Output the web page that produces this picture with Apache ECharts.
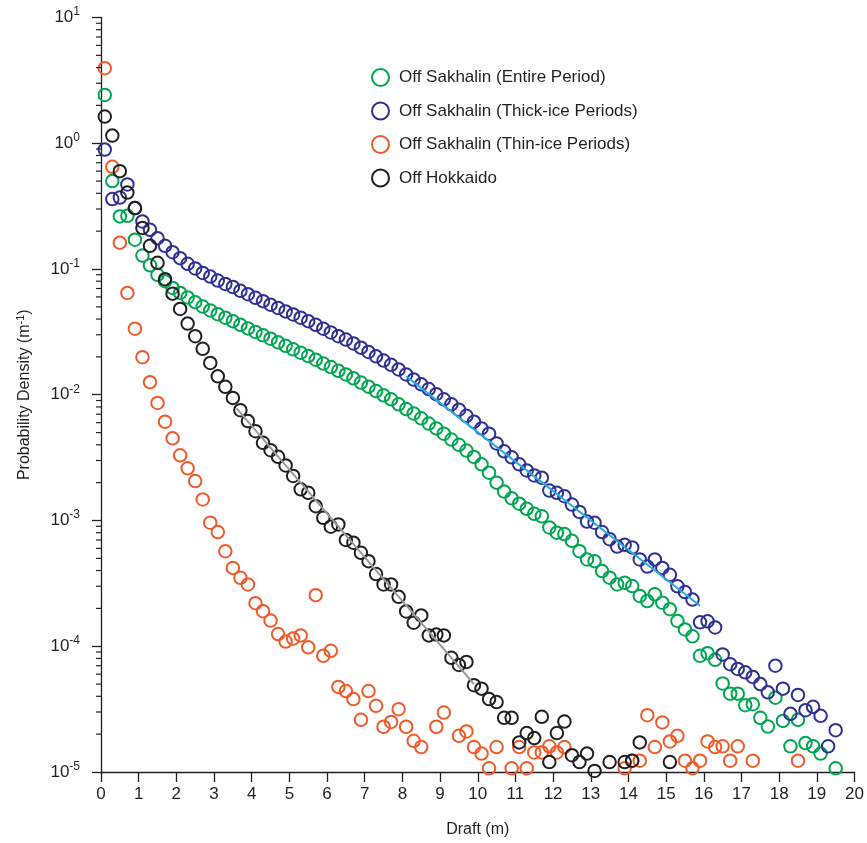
<!DOCTYPE html>
<html><head><meta charset="utf-8">
<script src="https://cdn.jsdelivr.net/npm/echarts@6/dist/echarts.min.js"></script>
<style>html,body{margin:0;padding:0;background:#fff}#c{width:867px;height:843px}</style>
</head><body><div id="c"></div>
<script>
// ---- Data ----
const thickDraft = [0.1,0.3,0.5,0.7,0.9,1.1,1.3,1.5,1.7,1.9,2.1,2.3,2.5,2.7,2.9,3.1,3.3,3.5,3.7,3.9,4.1,4.3,4.5,4.7,4.9,5.1,5.3,5.5,5.7,5.9,6.1,6.3,6.5,6.7,6.9,7.1,7.3,7.5,7.7,7.9,8.1,8.3,8.5,8.7,8.9,9.1,9.3,9.5,9.7,9.9,10.1,10.3,10.5,10.7,10.9,11.1,11.3,11.5,11.7,11.9,12.1,12.3,12.5,12.7,12.9,13.1,13.3,13.5,13.7,13.9,14.1,14.3,14.5,14.7,14.9,15.1,15.3,15.5,15.7,15.9,16.1,16.3,16.5,16.7,16.9,17.1,17.3,17.5,17.7,17.9,18.1,18.3,18.5,18.7,18.9,19.1,19.3,19.5];
const thickDensity = [0.89,0.36,0.37,0.47,0.305,0.239,0.205,0.176,0.153,0.136,0.122,0.110,0.101,0.093,0.087,0.081,0.076,0.072,0.067,0.063,0.059,0.0555,0.052,0.049,0.046,0.0435,0.041,0.0385,0.036,0.0335,0.0313,0.0292,0.0275,0.0256,0.0237,0.0219,0.0202,0.0187,0.0173,0.0159,0.0145,0.0132,0.0121,0.0111,0.0101,0.0092,0.0084,0.0076,0.0068,0.0061,0.0054,0.0049,0.0041,0.00355,0.00318,0.0028,0.0025,0.00228,0.00219,0.00173,0.00166,0.00156,0.00134,0.00117,0.00098,0.00096,0.00081,0.00071,0.00062,0.00064,0.00061,0.00049,0.00043,0.00049,0.00042,0.00037,0.00030,0.00027,0.000235,0.000155,0.000158,0.000141,0.000086,0.000072,0.000066,0.000062,0.000057,0.00005,0.000043,0.00007,0.000046,0.000029,0.000041,0.000031,0.000033,0.000028,0.000016,0.0000215];

const entireDraft = [0.1,0.3,0.5,0.7,0.9,1.1,1.3,1.5,1.7,1.9,2.1,2.3,2.5,2.7,2.9,3.1,3.3,3.5,3.7,3.9,4.1,4.3,4.5,4.7,4.9,5.1,5.3,5.5,5.7,5.9,6.1,6.3,6.5,6.7,6.9,7.1,7.3,7.5,7.7,7.9,8.1,8.3,8.5,8.7,8.9,9.1,9.3,9.5,9.7,9.9,10.1,10.3,10.5,10.7,10.9,11.1,11.3,11.5,11.7,11.9,12.1,12.3,12.5,12.7,12.9,13.1,13.3,13.5,13.7,13.9,14.1,14.3,14.5,14.7,14.9,15.1,15.3,15.5,15.7,15.9,16.1,16.3,16.5,16.7,16.9,17.1,17.3,17.5,17.7,17.9,18.1,18.3,18.5,18.7,18.9,19.1,19.5];
const entireDensity = [2.42,0.50,0.262,0.265,0.171,0.128,0.107,0.090,0.080,0.0707,0.0645,0.0594,0.0545,0.0503,0.0468,0.0437,0.0410,0.0385,0.0360,0.0337,0.0316,0.0297,0.0279,0.0261,0.0245,0.0230,0.0216,0.0203,0.0190,0.0177,0.0166,0.0155,0.0145,0.0135,0.0125,0.0116,0.0107,0.0099,0.0092,0.0084,0.0077,0.0071,0.0065,0.0059,0.0054,0.0049,0.0044,0.0040,0.0036,0.0032,0.0028,0.0024,0.0020,0.0017,0.0015,0.00136,0.00124,0.00113,0.00108,0.00088,0.00080,0.00078,0.00069,0.00057,0.00049,0.000475,0.000396,0.000351,0.00031,0.00032,0.000301,0.000251,0.000229,0.000259,0.000222,0.000197,0.000159,0.000136,0.000120,0.000084,0.000088,0.000078,0.0000506,0.000042,0.000042,0.000034,0.0000346,0.000027,0.000023,0.000039,0.0000255,0.000016,0.000026,0.000017,0.000016,0.000014,0.0000107];

const thinDraft = [0.1,0.3,0.5,0.7,0.9,1.1,1.3,1.5,1.7,1.9,2.1,2.3,2.5,2.7,2.9,3.1,3.3,3.5,3.7,3.9,4.1,4.3,4.5,4.7,4.9,5.1,5.3,5.5,5.7,5.9,6.1,6.3,6.5,6.7,6.9,7.1,7.3,7.5,7.7,7.9,8.1,8.3,8.5,8.9,9.1,9.5,9.7,9.9,10.1,10.3,10.5,10.9,11.1,11.3,11.5,11.7,11.9,12.1,12.3,13.9,14.1,14.3,14.5,14.7,14.9,15.1,15.3,15.5,15.7,15.9,16.1,16.3,16.5,16.7,16.9,17.3,18.5];
const thinDensity = [3.95,0.65,0.162,0.0645,0.0335,0.0199,0.0126,0.0086,0.0061,0.0045,0.0033,0.0026,0.00206,0.00147,0.00096,0.00081,0.00057,0.00042,0.00035,0.00031,0.00022,0.00019,0.00016,0.000125,0.000109,0.000115,0.000122,0.000098,0.000255,0.000084,0.000092,0.0000475,0.000044,0.000038,0.000026,0.000044,0.0000336,0.0000229,0.000025,0.0000316,0.0000229,0.0000177,0.0000158,0.0000229,0.0000297,0.0000194,0.000021,0.0000158,0.000014,0.0000107,0.0000158,0.0000107,0.0000158,0.0000107,0.0000143,0.0000143,0.000016,0.0000143,0.0000158,0.0000107,0.0000123,0.0000123,0.0000283,0.0000158,0.0000248,0.0000175,0.0000194,0.0000123,0.0000107,0.0000123,0.0000175,0.0000158,0.000016,0.0000123,0.000016,0.0000123,0.0000123];

const hokkaidoDraft = [0.1,0.3,0.5,0.7,0.9,1.1,1.3,1.5,1.7,1.9,2.1,2.3,2.5,2.7,2.9,3.1,3.3,3.5,3.7,3.9,4.1,4.3,4.5,4.7,4.9,5.1,5.3,5.5,5.7,5.9,6.1,6.3,6.5,6.7,6.9,7.1,7.3,7.5,7.7,7.9,8.1,8.3,8.5,8.7,8.9,9.1,9.3,9.5,9.7,9.9,10.1,10.3,10.5,10.7,10.9,11.1,11.3,11.5,11.7,11.9,12.1,12.3,12.5,12.7,12.9,13.1,13.5,13.9,14.1,14.3,15.1];
const hokkaidoDensity = [1.63,1.15,0.60,0.405,0.305,0.212,0.153,0.112,0.083,0.0637,0.0481,0.0368,0.0292,0.0232,0.0179,0.014,0.01156,0.00944,0.00754,0.00617,0.00513,0.00415,0.00362,0.00321,0.00274,0.00226,0.00177,0.00166,0.0013,0.00105,0.000893,0.00093,0.0007,0.000666,0.000554,0.000475,0.000375,0.00031,0.00031,0.000247,0.000189,0.000154,0.000176,0.000122,0.000124,0.000122,0.000081,0.000071,0.000075,0.000049,0.000046,0.000038,0.000036,0.000027,0.000027,0.0000172,0.0000204,0.0000186,0.0000275,0.000012,0.0000204,0.0000252,0.0000136,0.000012,0.000014,0.0000102,0.000012,0.000012,0.0000123,0.0000172,0.000012];

// fitted lines (end points)
const thickFitDraft = [8.1, 15.9];
const thickFitDensity = [0.014, 0.00021];
const hokkaidoFitDraft = [3.6, 9.9];
const hokkaidoFitDensity = [0.0078, 0.00005];

// axis ticks
const xTickLabels = ['0','1','2','3','4','5','6','7','8','9','10','11','12','13','14','15','16','17','18','19','20'];
const yDecades = [-5,-4,-3,-2,-1,0];
const yMinorMultipliers = [2,3,4,5,6,7,8,9];

const seriesNames = ['Off Sakhalin (Entire Period)','Off Sakhalin (Thick-ice Periods)','Off Sakhalin (Thin-ice Periods)','Off Hokkaido'];
const seriesColors = ['#00a651','#2e3192','#f15a29','#231f20'];

// ---- Chart ----
const FONT = '"Liberation Sans", Arial, Helvetica, sans-serif';
const INK = '#231f20';
function pairs(xs, ys){ return xs.map((x,i)=>[x, ys[i]]); }
const minorTickData = [];
yDecades.forEach(d => yMinorMultipliers.forEach(m => minorTickData.push([0, m * Math.pow(10, d)])));

function scatter(idx, xs, ys){
  return {
    type:'scatter', name: seriesNames[idx], data: pairs(xs, ys),
    symbol:'circle', symbolSize:12.5,
    itemStyle:{color:'rgba(0,0,0,0)', borderColor: seriesColors[idx], borderWidth:2, opacity:1},
    emphasis:{disabled:true}, silent:true, z:2
  };
}

const chart = echarts.init(document.getElementById('c'), null, {renderer:'canvas'});
chart.setOption({
  animation:false,
  backgroundColor:'#fff',
  grid:{left:101, top:17.5, width:753.5, height:755.5, containLabel:false},
  xAxis:{
    type:'value', min:0, max:20, interval:1,
    name:'Draft (m)', nameLocation:'middle', nameGap:50,
    nameTextStyle:{fontSize:16, color:INK, fontFamily:FONT},
    axisLine:{show:true, onZero:false, lineStyle:{color:INK, width:1.3}},
    axisTick:{show:true, inside:false, length:10, lineStyle:{color:INK, width:1.3}},
    axisLabel:{fontSize:17, color:INK, fontFamily:FONT, margin:14,
      formatter:(v)=> xTickLabels[Math.round(v)] },
    splitLine:{show:false}
  },
  yAxis:{
    type:'log', logBase:10, min:1e-5, max:10, interval:1, splitNumber:6,
    name:'Probability Density (m{sup|-1})', nameLocation:'middle', nameGap:66, nameRotate:90,
    nameTextStyle:{fontSize:16, color:INK, fontFamily:FONT,
      rich:{sup:{fontSize:11, color:INK, fontFamily:FONT, padding:[0,0,9,0]}}},
    axisLine:{show:true, onZero:false, lineStyle:{color:INK, width:1.3}},
    axisTick:{show:true, inside:false, length:9, lineStyle:{color:INK, width:1.3}},
    axisLabel:{color:INK, fontFamily:FONT, margin:21,
      formatter:(v)=>{ const e = Math.round(Math.log10(v)); return '{b|10}{s|' + e + '}'; },
      rich:{
        b:{fontSize:17, lineHeight:17, fontFamily:FONT, color:INK, padding:[6,0,0,0], verticalAlign:'bottom'},
        s:{fontSize:12, lineHeight:12, fontFamily:FONT, color:INK, padding:[3,0,8,0], verticalAlign:'bottom'}
      }},
    splitLine:{show:false}, minorTick:{show:false}
  },
  legend:{
    orient:'vertical', left:366, top:63, itemWidth:17, itemHeight:17, itemGap:14.5,
    textStyle:{fontSize:17, color:INK, fontFamily:FONT, padding:[0,0,0,5]},
    selectedMode:false,
    data: seriesNames.map((n,i)=>({name:n, icon:'circle',
      itemStyle:{color:'rgba(0,0,0,0)', borderColor:seriesColors[i], borderWidth:2, opacity:1}}))
  },
  series:[
    scatter(0, entireDraft, entireDensity),
    scatter(1, thickDraft, thickDensity),
    scatter(2, thinDraft, thinDensity),
    scatter(3, hokkaidoDraft, hokkaidoDensity),
    {type:'line', name:'thickFit', data:pairs(thickFitDraft, thickFitDensity), symbol:'none', showSymbol:false,
      lineStyle:{color:'#29abe2', width:2}, silent:true, z:3},
    {type:'line', name:'hokkaidoFit', data:pairs(hokkaidoFitDraft, hokkaidoFitDensity), symbol:'none', showSymbol:false,
      lineStyle:{color:'#999999', width:2}, silent:true, z:3},
    {type:'custom', name:'yMinorTicks', coordinateSystem:'cartesian2d', clip:false, silent:true, z:5,
      data: minorTickData,
      renderItem:(params, api)=>{
        const p = api.coord([0, api.value(1)]);
        return {type:'line', shape:{x1:p[0]-5, y1:p[1], x2:p[0], y2:p[1]},
          style:{stroke:INK, lineWidth:1.2}};
      }}
  ]
});
</script>
</body></html>
